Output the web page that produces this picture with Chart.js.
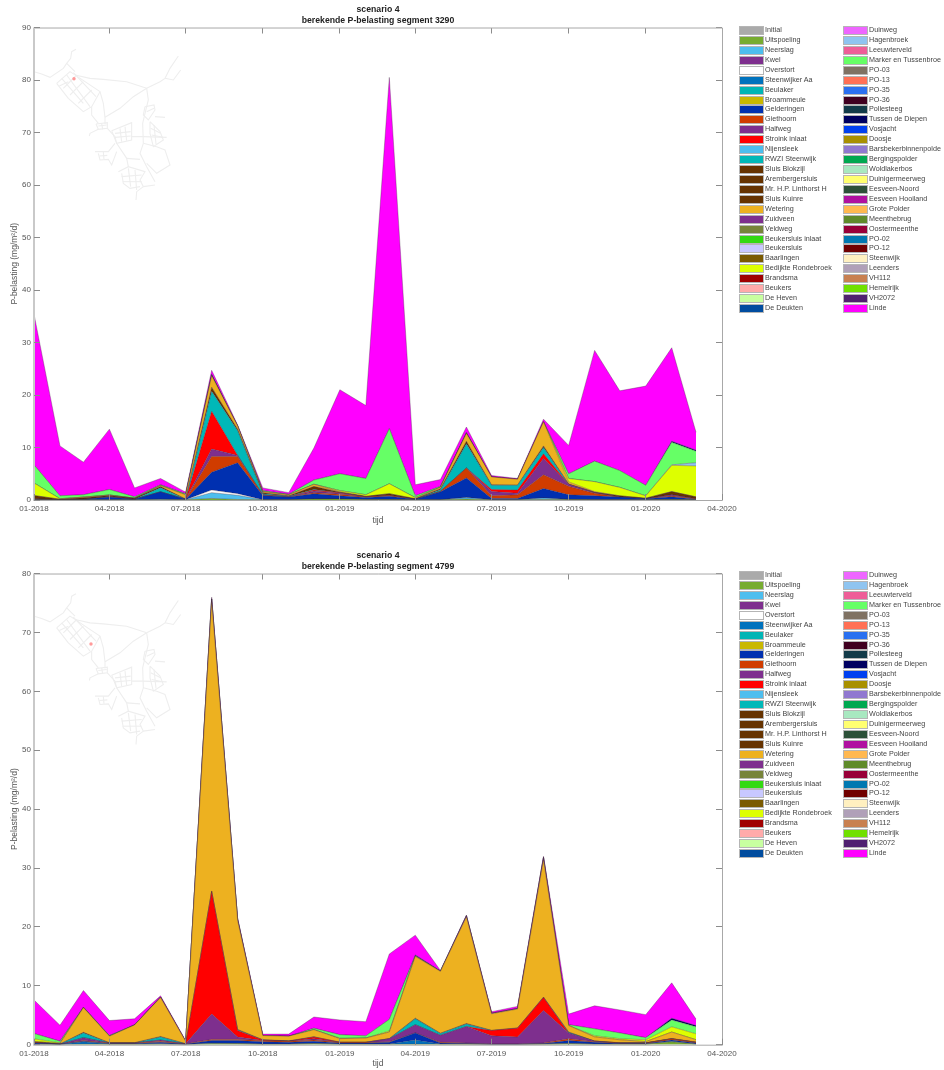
<!DOCTYPE html>
<html>
<head>
<meta charset="utf-8">
<title>berekende P-belasting</title>
<script src="https://cdn.jsdelivr.net/npm/chart.js@4"></script>
<style>
  html, body { margin: 0; padding: 0; background: #fff; }
  body { position: relative; width: 944px; height: 1070px; overflow: hidden; font-family: 'Liberation Sans', Arial, sans-serif; }
  canvas { position: absolute; left: 0; }
  .legend-row { position: absolute; height: 10px; line-height: 10px; font-size: 7.2px; color: #444; white-space: nowrap; }
  .legend-box { position: absolute; left: 0; top: 1px; width: 23px; height: 7px; border: 1px solid #b5b5b5; }
  .legend-text { position: absolute; left: 26px; top: 0; }
</style>
</head>
<body>
<canvas id="chart3290" width="756" height="530" style="top:0"></canvas>
<canvas id="chart4799" width="756" height="524" style="top:546px"></canvas>
<div id="legends"></div>

<script>
const months = ['01-2018','02-2018','03-2018','04-2018','05-2018','06-2018','07-2018','08-2018','09-2018','10-2018','11-2018','12-2018',
  '01-2019','02-2019','03-2019','04-2019','05-2019','06-2019','07-2019','08-2019','09-2019','10-2019','11-2019','12-2019',
  '01-2020','02-2020','03-2020'];
const xTickLabels = ['01-2018','04-2018','07-2018','10-2018','01-2019','04-2019','07-2019','10-2019','01-2020','04-2020'];

const seriesNames = ['Initial','Uitspoeling','Neerslag','Kwel','Overstort','Steenwijker Aa','Beulaker','Broammeule','Gelderingen','Giethoorn',
  'Halfweg','Stroink inlaat','Nijensleek','RWZI Steenwijk','Sluis Blokzijl','Arembergersluis','Mr. H.P. Linthorst H','Sluis Kuinre','Wetering',
  'Zuidveen','Veldweg','Beukersluis inlaat','Beukersluis','Baarlingen','Bedijkte Rondebroek','Brandsma','Beukers','De Heven','De Deukten',
  'Duinweg','Hagenbroek','Leeuwterveld','Marker en Tussenbroe','PO-03','PO-13','PO-35','PO-36','Pollesteeg','Tussen de Diepen','Vosjacht',
  'Doosje','Barsbekerbinnenpolde','Bergingspolder','Woldlakerbos','Duinigermeerweg','Eesveen-Noord','Eesveen Hooiland','Grote Polder',
  'Meenthebrug','Oostermeenthe','PO-02','PO-12','Steenwijk','Leenders','VH112','Hemelrijk','VH2072','Linde'];
const seriesColors = ['#aaaaaa','#77ac30','#4dbeee','#7e2f8e','#ffffff','#0072bd','#00b5b5','#c9b800','#0030b0','#d03c00',
  '#7e2f8e','#ff0000','#4dbeee','#00b8b8','#663300','#663300','#663300','#663300','#edb120',
  '#7e2f8e','#77843a','#33d911','#c8c8ff','#7a5a00','#ddff00','#a00000','#ffaaaa','#c8ffa0','#004c9f',
  '#ee66ff','#8fc4f0','#ee5e98','#66ff66','#7f7263','#ff7055','#2a70f0','#400020','#123a48','#000060','#0040f0',
  '#a89000','#9078d0','#00a850','#a8e8c0','#ffff70','#2c5038','#b010a0','#ffb850',
  '#5f8a2a','#980038','#0078b0','#700000','#fff0c0','#b0a0b8','#c88050','#70e000','#502070','#ff00ff'];

// segment 3290, monthly band heights
const uitspoeling3290 = [.05,.05,.05,.05,.05,.05,.05,.3,.1,.05,.05,.2,.2,.1,.1,.05,.05,.2,.05,.05,.1,.1,.05,.05,.05,.1,.05];
const overstort3290 = [0,0,0,0,0,0,0,.5,.3,0,0,0,0,0,0,0,0,0,0,0,0,0,0,0,0,0,0];
const neerslag3290 = [0,0,0,0,0,.1,0,1.1,.8,0,0,0,0,0,0,0,0,.3,0,0,.3,0,0,0,0,0,0];
const gelderingen3290 = [.1,0,.1,.5,.1,1.4,.1,3.4,5.9,.8,.5,1,.6,.4,.6,.1,1.5,3.7,.25,.25,1.8,.9,.75,.5,.2,.5,.1];
const giethoorn3290 = [.1,0,0,.1,0,0,0,3,1.2,.1,.05,.2,.3,.1,.2,0,.1,1.9,.5,.7,2.6,1.6,.5,0,0,.2,.1];
const halfweg3290 = [0,0,0,0,0,0,0,1.4,.2,0,0,.3,.2,0,0,0,0,0,.8,.3,3.1,.4,.1,0,0,.2,0];
const stroink3290 = [0,0,0,0,0,0,0,7.2,0,.05,0,.2,.1,0,0,0,0,0,.4,.6,.9,0,0,0,0,0,0];
const rwzi3290 = [0,0,0,0,0,.8,0,3.8,4.7,.2,.1,.1,0,0,0,0,.3,4.6,.8,.9,1.2,0,0,0,0,0,0];
const wetering3290 = [0,0,.1,.1,0,.2,.8,2.2,.6,.2,.2,.4,.1,0,0,0,.3,1.5,1.5,1.1,4.6,.4,.1,0,0,0,0];
const sluisKuinre3290 = [.6,.1,.3,.2,.2,.2,.05,.8,.3,.2,.1,.6,.1,.1,.3,.1,.2,.5,.1,.05,.3,.05,.1,.25,.1,.6,.35];
const bedijkte3290 = [2.4,.1,0,0,0,0,0,0,0,0,0,0,.2,.3,1.9,.2,0,0,0,0,0,.65,1.9,1.6,.45,5,5.9];
const hagenbroek3290 = [0,0,0,0,0,0,0,0,0,0,0,0,0,0,0,0,0,0,0,0,0,0,0,0,0,.1,.6];
const marker3290 = [3.45,.55,.45,1.05,.25,.15,.2,0,0,.2,.1,.8,3.2,3.1,10.5,.35,.15,0,0,0,0,.9,3.9,3.2,2,4.3,2.2];
const tussen3290 = [0,0,0,0,0,0,0,.3,0,0,0,0,0,0,0,0,0,.2,0,0,0,0,0,0,0,.2,.2];
const linde3290 = [28.7,9.5,6.2,11.5,1.7,1.2,.3,.7,.2,.5,.3,6.1,16,13.9,66.9,2.1,1.3,1,.25,.15,.5,5.4,21.1,15.2,18.9,17.8,3.4];

// segment 4799
const uitspoeling4799 = [.1,.05,.1,.1,.1,.1,.05,.2,.2,.1,.1,.2,.1,.1,.1,.1,.1,.1,.05,.05,.1,.2,.1,.1,.1,.5,.1];
const steenwijkerAa4799 = [0,0,.4,0,0,.1,0,.1,0,0,0,0,0,0,0,.7,0,0,0,0,0,0,0,0,0,.1,0];
const gelderingen4799 = [.2,.05,.1,.1,.1,.2,.05,.4,.5,.4,.3,.4,.2,.2,.3,1.2,.2,.1,.05,.05,.1,.5,.3,.1,.1,.2,.2];
const giethoorn4799 = [.1,0,.1,.1,.1,.2,.05,.2,.2,.2,.2,.2,.1,.1,.1,0,.1,.1,0,0,.1,.3,.1,.1,.1,.2,.1];
const halfweg4799 = [0,0,.5,0,0,.2,0,4.3,.4,0,0,.2,0,0,.5,1.4,1.2,2.8,1.4,1.2,5.5,1,.1,0,0,0,0];
const stroink4799 = [0,0,0,0,0,0,0,20.8,1.1,.1,0,.3,0,0,0,0,0,0,.9,1.5,2.2,0,0,0,0,0,0];
const rwzi4799 = [0,0,.8,0,0,.5,0,0,.1,0,0,0,0,0,0,1,.3,.4,0,0,0,.1,0,0,0,0,0];
const sluisKuinre4799 = [.05,.02,.1,.05,.05,.1,.02,.1,.1,.05,.05,.05,.03,.03,.05,.1,.05,.1,.05,.05,.1,.05,.03,.03,.03,.05,.05];
const wetering4799 = [.1,.1,4.2,1.1,3,6.6,.4,49.2,18.5,.7,.8,1.2,.6,.7,1.1,10.5,10.5,18.1,2.8,3.2,23.3,1.1,.7,.5,.2,1.1,.4];
const zuidveen4799 = [0,0,0,0,0,.1,0,.4,.2,0,0,0,0,0,0,0,0,.2,.1,.1,.4,0,0,0,0,0,0];
const bedijkte4799 = [.45,.1,0,0,0,0,0,0,0,0,0,0,.1,0,.2,0,0,0,0,0,0,0,.2,.2,.3,.9,1];
const marker4799 = [.9,.28,0,.1,0,0,0,0,0,0,0,.25,.57,.37,1.95,.1,0,0,0,0,0,.15,1.17,.97,.37,1.15,1.2];
const tussen4799 = [0,0,.1,0,.05,0,0,0,0,0,0,0,0,0,0,.15,.1,0,0,0,0,0,0,0,0,.3,.2];
const linde4799 = [5.7,2.7,2.8,2.55,1,.2,.13,.3,.2,.25,.35,1.9,2.5,2.4,11.1,3.35,.05,.1,.25,.35,.2,1.8,3.9,3.9,3.9,6,1.1];

const bands3290 = {
  'Uitspoeling': uitspoeling3290, 'Overstort': overstort3290, 'Neerslag': neerslag3290, 'Gelderingen': gelderingen3290,
  'Giethoorn': giethoorn3290, 'Halfweg': halfweg3290, 'Stroink inlaat': stroink3290, 'RWZI Steenwijk': rwzi3290,
  'Wetering': wetering3290, 'Sluis Kuinre': sluisKuinre3290, 'Bedijkte Rondebroek': bedijkte3290, 'Hagenbroek': hagenbroek3290,
  'Marker en Tussenbroe': marker3290, 'Tussen de Diepen': tussen3290, 'Linde': linde3290,
};
const bands4799 = {
  'Uitspoeling': uitspoeling4799, 'Steenwijker Aa': steenwijkerAa4799, 'Gelderingen': gelderingen4799, 'Giethoorn': giethoorn4799,
  'Halfweg': halfweg4799, 'Stroink inlaat': stroink4799, 'RWZI Steenwijk': rwzi4799, 'Sluis Kuinre': sluisKuinre4799,
  'Wetering': wetering4799, 'Zuidveen': zuidveen4799, 'Bedijkte Rondebroek': bedijkte4799, 'Marker en Tussenbroe': marker4799,
  'Tussen de Diepen': tussen4799, 'Linde': linde4799,
};

// the little location map in the corner (3x pixels)
const mapRoads = [
  [[228,148],[215,155],[212,175],[200,190],[190,205],[150,232],[125,222],[105,216]],
  [[200,190],[215,205],[225,215]],
  [[170,250],[210,215],[300,275],[275,320],[250,335],[205,295],[170,250]],
  [[185,235],[250,310]], [[200,225],[270,320]], [[220,218],[288,290]],
  [[190,265],[230,225]], [[210,285],[250,245]], [[235,310],[275,270]], [[178,258],[205,245]],
  [[225,225],[270,235],[310,238],[380,245],[440,265]],
  [[440,265],[480,245],[495,235],[510,205],[535,168]],
  [[495,235],[520,240],[542,210]],
  [[440,265],[400,290],[360,325],[315,352]],
  [[300,275],[310,310],[315,352],[315,372]],
  [[275,320],[275,345],[295,370]],
  [[440,265],[445,300],[435,340],[428,370],[430,430],[420,460],[440,500],[465,545]],
  [[288,372],[322,368],[322,385],[295,388],[288,372]], [[295,378],[320,375]], [[305,370],[308,388]],
  [[295,388],[270,400],[268,408]],
  [[322,385],[345,410],[350,430],[380,475],[385,500]],
  [[335,392],[395,368],[395,420],[350,430],[335,392]],
  [[345,400],[392,395]], [[345,412],[392,408]], [[360,385],[365,425]], [[375,380],[380,422]],
  [[395,410],[430,410],[500,412]],
  [[435,320],[462,315],[465,330],[445,360],[430,345],[435,320]], [[440,335],[462,325]], [[465,350],[495,352]],
  [[450,365],[480,395],[490,420],[460,440],[450,400],[450,365]], [[452,385],[482,400]], [[455,405],[488,412]], [[462,375],[468,432]],
  [[430,430],[470,440],[495,450],[510,495],[470,520],[440,490]],
  [[285,455],[325,455],[345,430]], [[295,460],[300,480],[325,478],[335,495],[350,455]], [[298,468],[322,466]], [[310,456],[312,478]],
  [[355,515],[385,500],[435,515],[420,540],[430,560],[410,575],[408,600]],
  [[365,520],[370,550],[390,565],[420,560]], [[365,530],[425,525]], [[368,545],[425,545]],
  [[385,505],[392,560]], [[405,510],[410,570]],
  [[380,475],[420,478]], [[430,560],[465,555]],
];

function dayOf(label) {
  const [m, y] = label.split('-').map(Number);
  return (Date.UTC(y, m - 1, 1) - Date.UTC(2018, 0, 1)) / 86400000;
}
const tickColor = '#8c8c8c';
const labelColor = '#555';
const fontName = "'Liberation Sans', Arial, sans-serif";

function setXTicks(scale) {
  scale.ticks = xTickLabels.map(l => ({ value: dayOf(l) }));
}
function xLabel(value) {
  return xTickLabels.find(l => dayOf(l) === value) || '';
}

// gray roads and the red dot of the segment
const mapPlugin = {
  id: 'locationMap',
  beforeDatasetsDraw(chart, args, opts) {
    const ctx = chart.ctx;
    ctx.save();
    ctx.strokeStyle = '#eeeeee';
    ctx.lineWidth = 1.1;
    mapRoads.forEach(road => {
      ctx.beginPath();
      road.forEach(([x, y], i) => {
        if (i === 0) ctx.moveTo(x / 3, y / 3 + opts.shiftY);
        else ctx.lineTo(x / 3, y / 3 + opts.shiftY);
      });
      ctx.stroke();
    });
    ctx.fillStyle = '#ff9a9a';
    ctx.beginPath();
    ctx.arc(opts.dot[0], opts.dot[1], 1.7, 0, Math.PI * 2);
    ctx.fill();
    ctx.restore();
  },
};

// box round the plot, matlab style: thick pale left side, thin other sides
const boxPlugin = {
  id: 'plotBox',
  afterDatasetsDraw(chart) {
    const { left, right, top, bottom } = chart.chartArea;
    const ctx = chart.ctx;
    ctx.save();
    ctx.strokeStyle = '#a8a8a8';
    ctx.lineWidth = 1;
    ctx.beginPath();
    ctx.moveTo(left, top + 0.5);
    ctx.lineTo(right + 0.5, top + 0.5);
    ctx.lineTo(right + 0.5, bottom + 0.5);
    ctx.lineTo(left, bottom + 0.5);
    ctx.stroke();
    ctx.strokeStyle = '#c9c9c9';
    ctx.lineWidth = 2;
    ctx.beginPath();
    ctx.moveTo(left, top);
    ctx.lineTo(left, bottom + 1);
    ctx.stroke();
    ctx.restore();
  },
};

function buildChart(id, titleLines, yMax, bands, plotBottomGap, tijdPadding, mapOpts) {
  const zeros = months.map(() => 0);
  const datasets = seriesNames.map((name, i) => {
    const values = bands[name] || zeros;
    const used = values.some(v => v > 0);
    return {
      label: name,
      data: values.map((v, k) => ({ x: dayOf(months[k]), y: v })),
      backgroundColor: seriesColors[i],
      borderColor: 'rgba(60,40,60,0.55)',
      borderWidth: used ? 0.6 : 0,
      fill: i === 0 ? 'origin' : '-1',
      pointRadius: 0,
      tension: 0,
    };
  });
  const hidden = { display: false };
  return new Chart(document.getElementById(id), {
    type: 'line',
    data: { datasets },
    plugins: [mapPlugin, boxPlugin],
    options: {
      responsive: false,
      animation: false,
      events: [],
      layout: { padding: 0 },
      plugins: {
        legend: hidden,
        tooltip: { enabled: false },
        locationMap: mapOpts,
        title: {
          display: true,
          text: titleLines,
          color: '#222',
          font: { family: fontName, size: 8.7, weight: 'bold', lineHeight: 1.3 },
          padding: { top: 4, bottom: 0.9 },
        },
      },
      scales: {
        x: {
          type: 'linear',
          min: 0,
          max: dayOf('04-2020'),
          afterBuildTicks: setXTicks,
          afterFit(scale) { scale.height = plotBottomGap; },
          grid: { drawOnChartArea: false, tickLength: -6, color: tickColor, z: 1 },
          border: { display: false },
          ticks: { callback: xLabel, padding: 10, maxRotation: 0, autoSkip: false, color: labelColor, font: { family: fontName, size: 8 } },
          title: { display: true, text: 'tijd', color: labelColor, font: { family: fontName, size: 8.5 }, padding: { top: 0, bottom: tijdPadding } },
        },
        x2: {
          type: 'linear',
          position: 'top',
          min: 0,
          max: dayOf('04-2020'),
          afterBuildTicks: setXTicks,
          afterFit(scale) { scale.height = 0; },
          grid: { drawOnChartArea: false, tickLength: -6, color: tickColor },
          border: { display: false },
          ticks: { display: false },
        },
        y: {
          stacked: true,
          min: 0,
          max: yMax,
          afterFit(scale) { scale.width = 34; },
          grid: { drawOnChartArea: false, tickLength: -6, color: tickColor, z: 1 },
          border: { display: false },
          ticks: { stepSize: 10, padding: 9, color: labelColor, font: { family: fontName, size: 8 } },
          title: { display: true, text: 'P-belasting (mg/m\u00B2/d)', color: labelColor, font: { family: fontName, size: 8.5 }, padding: { top: 10, bottom: 0 } },
        },
        y2: {
          position: 'right',
          min: 0,
          max: yMax,
          afterFit(scale) { scale.width = 34; },
          grid: { drawOnChartArea: false, tickLength: -6, color: tickColor },
          border: { display: false },
          ticks: { stepSize: 10, display: false },
        },
      },
    },
  });
}

// two column legend, same for both panels
function buildLegend(top) {
  const holder = document.getElementById('legends');
  const perCol = 29;
  seriesNames.forEach((name, i) => {
    const col = Math.floor(i / perCol);
    const row = document.createElement('div');
    row.className = 'legend-row';
    row.style.left = (col === 0 ? 739 : 843) + 'px';
    row.style.top = (top + (i % perCol) * 9.93) + 'px';
    const box = document.createElement('div');
    box.className = 'legend-box';
    box.style.background = seriesColors[i];
    const text = document.createElement('div');
    text.className = 'legend-text';
    text.textContent = name;
    row.append(box, text);
    holder.appendChild(row);
  });
}

buildChart('chart3290', ['scenario 4', 'berekende P-belasting segment 3290'], 90, bands3290, 30, 4,
  { shiftY: 0, dot: [74, 78.7] });
buildChart('chart4799', ['scenario 4', 'berekende P-belasting segment 4799'], 80, bands4799, 25.3, 1,
  { shiftY: -1.5, dot: [91, 98] });
buildLegend(25);
buildLegend(570);
</script>
</body>
</html>
